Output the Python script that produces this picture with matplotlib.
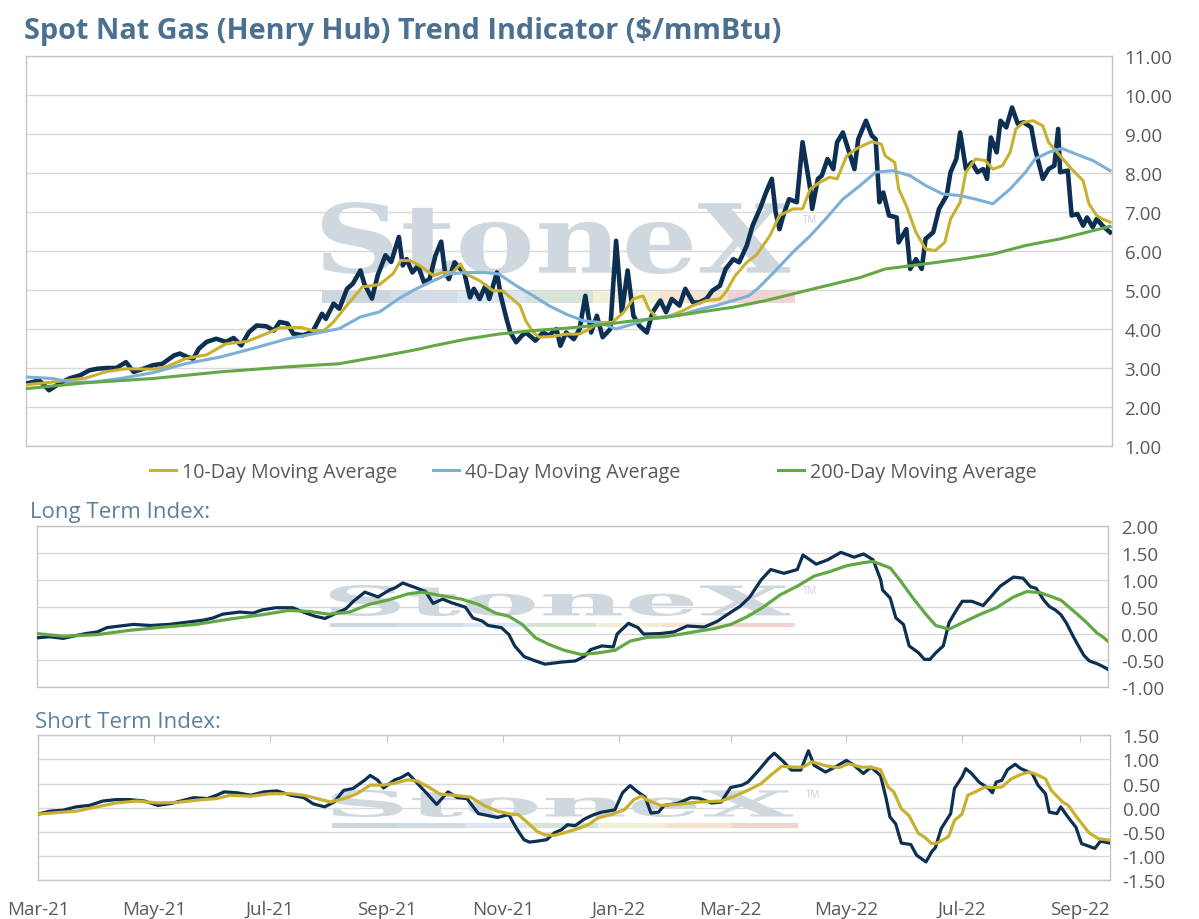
import pandas as pd
import matplotlib
matplotlib.use("Agg")
import matplotlib.pyplot as plt
import matplotlib.dates as mdates
from matplotlib.textpath import TextPath
from matplotlib.patches import PathPatch, Rectangle
from matplotlib.font_manager import FontProperties
from matplotlib.transforms import Affine2D
from matplotlib.lines import Line2D

plt.rcParams["font.family"] = ["Open Sans", "DejaVu Sans"]

# dias contados desde el 1 de marzo de 2021
inicio = pd.Timestamp("2021-03-01")
n_dias = 565

# precio spot Henry Hub ($/mmBtu)
precio_dia = [0, 7, 12, 18, 23, 28, 33, 37, 42, 47, 52, 56, 61, 66, 71, 77, 80, 84, 87, 90,
              94, 99, 104, 108, 112, 116, 120, 125, 129, 132, 136, 139, 144, 149, 154, 156, 160, 163, 167, 170,
              174, 176, 180, 183, 187, 190, 194, 196, 198, 201, 204, 207, 210, 213, 216, 218, 220, 223, 226, 228,
              231, 233, 236, 239, 241, 245, 247, 250, 252, 255, 258, 260, 263, 265, 269, 272, 276, 278, 281, 285,
              288, 291, 294, 297, 300, 304, 307, 310, 313, 316, 319, 323, 326, 330, 333, 336, 340, 343, 347, 350,
              354, 357, 361, 364, 368, 371, 375, 378, 382, 385, 388, 390, 392, 394, 397, 401, 404, 408, 409, 412,
              414, 417, 420, 422, 425, 428, 431, 433, 437, 440, 442, 444, 446, 449, 453, 454, 458, 460, 463, 466,
              468, 472, 475, 479, 481, 484, 486, 489, 492, 495, 498, 500, 502, 505, 507, 510, 513, 516, 519, 523,
              525, 529, 532, 535, 537, 538, 542, 544, 547, 550, 552, 555, 557, 560, 564]
precio_val = [2.60, 2.68, 2.43, 2.62, 2.74, 2.81, 2.94, 2.98, 3.00, 3.00, 3.15, 2.90, 2.98, 3.07, 3.11, 3.32, 3.37, 3.28, 3.24, 3.50,
              3.67, 3.75, 3.67, 3.77, 3.58, 3.92, 4.09, 4.07, 3.96, 4.18, 4.14, 3.88, 3.84, 3.92, 4.39, 4.26, 4.65, 4.52, 5.03, 5.16,
              5.50, 5.16, 4.78, 5.38, 5.89, 5.72, 6.36, 5.63, 5.79, 5.45, 5.62, 5.20, 5.28, 5.88, 6.24, 5.45, 5.28, 5.71, 5.54, 5.45,
              4.81, 5.03, 4.77, 5.11, 4.77, 5.45, 4.85, 4.26, 3.91, 3.66, 3.83, 3.91, 3.79, 3.70, 3.91, 3.83, 4.00, 3.57, 3.91, 3.74,
              4.00, 4.85, 3.91, 4.34, 3.79, 4.00, 6.26, 4.43, 5.50, 4.34, 4.09, 3.91, 4.43, 4.73, 4.43, 4.77, 4.60, 5.03, 4.68, 4.68,
              4.77, 4.98, 5.11, 5.54, 5.79, 5.71, 6.14, 6.65, 7.10, 7.50, 7.85, 7.00, 6.56, 6.91, 7.33, 7.25, 8.79, 7.59, 7.08, 7.85,
              7.93, 8.36, 8.10, 8.79, 9.04, 8.57, 8.10, 8.87, 9.34, 8.96, 8.87, 7.25, 7.50, 6.91, 6.86, 6.22, 6.56, 5.54, 5.79, 5.54,
              6.31, 6.48, 7.08, 7.42, 8.02, 8.36, 9.04, 8.10, 8.27, 8.02, 8.10, 7.85, 8.91, 8.53, 9.34, 9.17, 9.68, 9.26, 9.30, 9.17,
              8.62, 7.85, 8.10, 8.19, 9.13, 8.02, 8.06, 6.91, 6.95, 6.65, 6.86, 6.61, 6.82, 6.65, 6.48]

# promedio movil 10 dias
ma10_dia = [0, 14, 31, 42, 52, 66, 73, 83, 94, 104, 115, 125, 132, 143, 149, 155, 160, 167, 170, 175,
            184, 191, 195, 200, 205, 212, 217, 222, 226, 229, 236, 243, 248, 253, 257, 260, 264, 267, 274, 281,
            288, 293, 298, 305, 311, 316, 321, 324, 328, 333, 340, 347, 354, 361, 364, 369, 375, 380, 387, 392,
            399, 404, 408, 413, 418, 422, 427, 432, 437, 440, 445, 447, 452, 454, 458, 463, 468, 473, 478, 481,
            486, 489, 494, 499, 503, 508, 512, 515, 519, 524, 529, 532, 538, 544, 550, 553, 557, 560, 564]
ma10_val = [2.57, 2.64, 2.74, 2.91, 2.98, 2.97, 3.03, 3.24, 3.34, 3.62, 3.68, 3.88, 4.03, 4.04, 3.96, 3.96, 4.18, 4.61, 4.78, 5.08,
            5.14, 5.42, 5.76, 5.75, 5.62, 5.37, 5.45, 5.45, 5.67, 5.41, 5.24, 4.98, 4.98, 4.77, 4.60, 4.21, 3.91, 3.79, 3.81, 3.87,
            3.87, 4.00, 4.17, 4.17, 4.43, 4.77, 4.85, 4.51, 4.30, 4.30, 4.43, 4.60, 4.73, 4.77, 4.94, 5.37, 5.71, 5.90, 6.39, 6.91,
            7.08, 7.08, 7.59, 7.76, 7.89, 7.85, 8.44, 8.62, 8.74, 8.80, 8.74, 8.44, 8.27, 7.59, 7.16, 6.48, 6.05, 6.01, 6.22, 6.82,
            7.25, 8.02, 8.36, 8.32, 8.10, 8.19, 8.53, 9.13, 9.30, 9.34, 9.21, 8.79, 8.44, 8.10, 7.80, 7.21, 6.91, 6.82, 6.74]

# promedio movil 40 dias
ma40_dia = [0, 14, 23, 35, 49, 66, 83, 101, 118, 136, 153, 163, 174, 184, 194, 203, 212, 220, 229, 238,
            246, 255, 264, 272, 281, 290, 298, 307, 316, 324, 333, 342, 350, 359, 368, 376, 381, 385, 390, 399,
            408, 416, 425, 434, 442, 451, 460, 468, 477, 486, 494, 503, 512, 520, 525, 532, 539, 546, 555, 564]
ma40_val = [2.77, 2.73, 2.64, 2.64, 2.73, 2.88, 3.11, 3.28, 3.50, 3.75, 3.91, 4.01, 4.31, 4.44, 4.78, 5.03, 5.24, 5.41, 5.45, 5.45,
            5.41, 5.11, 4.85, 4.60, 4.38, 4.21, 4.17, 4.00, 4.13, 4.26, 4.32, 4.38, 4.50, 4.60, 4.73, 4.85, 5.05, 5.25, 5.50, 5.97,
            6.39, 6.82, 7.33, 7.68, 8.02, 8.06, 7.93, 7.68, 7.46, 7.42, 7.33, 7.21, 7.59, 8.02, 8.36, 8.53, 8.63, 8.49, 8.32, 8.06]

# promedio movil 200 dias
ma200_dia = [0, 31, 66, 101, 136, 163, 187, 204, 212, 229, 246, 264, 281, 298, 316, 333, 350, 368, 385, 413,
             434, 447, 468, 486, 503, 520, 538, 555, 564]
ma200_val = [2.47, 2.62, 2.73, 2.90, 3.03, 3.11, 3.32, 3.48, 3.57, 3.74, 3.87, 3.96, 4.02, 4.10, 4.21, 4.30, 4.43, 4.56, 4.73, 5.07,
             5.32, 5.54, 5.67, 5.79, 5.92, 6.14, 6.31, 6.52, 6.63]

# indice de largo plazo
lp_dia = [0, 7, 14, 19, 26, 32, 37, 44, 51, 60, 70, 79, 88, 93, 98, 107, 114, 119, 126, 135,
          142, 147, 152, 158, 163, 167, 173, 180, 186, 189, 193, 200, 205, 209, 214, 219, 226, 230, 235, 238,
          245, 249, 252, 257, 263, 268, 277, 284, 289, 292, 298, 304, 306, 312, 317, 320, 329, 336, 343, 352,
          359, 364, 371, 376, 382, 387, 394, 401, 404, 411, 417, 424, 431, 436, 441, 445, 446, 450, 453, 457,
          460, 465, 468, 471, 474, 478, 481, 485, 488, 493, 499, 502, 508, 515, 520, 524, 527, 531, 534, 537,
          540, 543, 546, 548, 552, 555, 559, 562, 565]
lp_val = [-0.08, -0.06, -0.09, -0.05, 0.00, 0.03, 0.11, 0.14, 0.17, 0.15, 0.17, 0.21, 0.25, 0.29, 0.36, 0.40, 0.38, 0.44, 0.48, 0.48,
          0.38, 0.32, 0.28, 0.38, 0.46, 0.60, 0.77, 0.68, 0.81, 0.85, 0.94, 0.85, 0.78, 0.56, 0.64, 0.57, 0.49, 0.29, 0.23, 0.15,
          0.11, -0.02, -0.23, -0.43, -0.51, -0.57, -0.53, -0.51, -0.42, -0.30, -0.23, -0.25, -0.01, 0.19, 0.11, -0.01, 0.00, 0.03, 0.14, 0.12,
          0.23, 0.35, 0.51, 0.68, 1.00, 1.19, 1.12, 1.19, 1.46, 1.29, 1.37, 1.51, 1.42, 1.48, 1.37, 1.00, 0.81, 0.66, 0.29, 0.17,
          -0.23, -0.36, -0.48, -0.48, -0.36, -0.23, 0.20, 0.44, 0.60, 0.60, 0.52, 0.64, 0.88, 1.05, 1.03, 0.87, 0.84, 0.62, 0.50, 0.44,
          0.35, 0.19, -0.02, -0.15, -0.40, -0.51, -0.56, -0.61, -0.67]
lp_prom_dia = [0, 14, 32, 49, 67, 84, 102, 119, 133, 144, 154, 165, 175, 186, 196, 203, 214, 224, 233, 242,
               249, 256, 263, 270, 278, 287, 296, 305, 313, 322, 331, 340, 348, 357, 366, 375, 383, 392, 401, 410,
               418, 427, 436, 441, 450, 455, 462, 469, 474, 481, 488, 497, 506, 515, 522, 529, 534, 540, 543, 548,
               554, 559, 562, 565]
lp_prom_val = [0.00, -0.05, -0.02, 0.06, 0.12, 0.17, 0.27, 0.35, 0.43, 0.41, 0.36, 0.40, 0.54, 0.63, 0.74, 0.77, 0.70, 0.64, 0.54, 0.38,
               0.32, 0.17, -0.08, -0.20, -0.31, -0.39, -0.36, -0.31, -0.14, -0.07, -0.06, -0.01, 0.04, 0.09, 0.17, 0.32, 0.49, 0.72, 0.88, 1.07,
               1.15, 1.26, 1.32, 1.34, 1.22, 1.00, 0.66, 0.35, 0.15, 0.08, 0.20, 0.35, 0.48, 0.68, 0.78, 0.76, 0.70, 0.62, 0.53, 0.38,
               0.19, 0.01, -0.06, -0.15]

# indice de corto plazo
cp_dia = [0, 6, 13, 20, 27, 34, 41, 48, 56, 63, 70, 77, 82, 89, 94, 98, 105, 112, 119, 126,
          133, 140, 145, 151, 156, 161, 166, 172, 175, 179, 182, 188, 191, 195, 200, 205, 210, 216, 221, 226,
          232, 237, 242, 248, 252, 256, 259, 263, 268, 272, 276, 279, 283, 288, 293, 297, 300, 304, 308, 312,
          316, 320, 323, 327, 330, 337, 344, 348, 355, 360, 365, 371, 374, 379, 385, 388, 393, 397, 402, 406,
          409, 415, 420, 426, 430, 435, 439, 444, 447, 449, 452, 455, 460, 463, 468, 471, 473, 476, 481, 483,
          487, 489, 492, 496, 501, 503, 505, 508, 511, 515, 518, 524, 527, 531, 533, 537, 539, 543, 547, 550,
          557, 560, 565]
cp_val = [-0.13, -0.07, -0.05, 0.02, 0.05, 0.14, 0.17, 0.17, 0.14, 0.05, 0.09, 0.16, 0.21, 0.19, 0.26, 0.33, 0.31, 0.26, 0.33, 0.35,
          0.26, 0.21, 0.08, 0.02, 0.12, 0.36, 0.40, 0.57, 0.67, 0.57, 0.41, 0.58, 0.62, 0.71, 0.50, 0.29, 0.07, 0.33, 0.21, 0.19,
          -0.12, -0.16, -0.20, -0.14, -0.42, -0.66, -0.71, -0.69, -0.66, -0.52, -0.45, -0.35, -0.37, -0.23, -0.14, -0.09, -0.07, -0.04, 0.31, 0.46,
          0.33, 0.22, -0.11, -0.09, 0.05, 0.09, 0.21, 0.20, 0.10, 0.12, 0.42, 0.47, 0.53, 0.74, 1.02, 1.13, 0.95, 0.78, 0.78, 1.18,
          0.88, 0.74, 0.84, 0.98, 0.88, 0.71, 0.84, 0.67, 0.19, -0.19, -0.33, -0.73, -0.76, -0.98, -1.12, -0.91, -0.82, -0.43, -0.12, 0.40,
          0.64, 0.81, 0.71, 0.53, 0.40, 0.31, 0.53, 0.57, 0.79, 0.90, 0.81, 0.71, 0.47, 0.29, -0.09, -0.12, 0.02, -0.20, -0.40, -0.74,
          -0.84, -0.69, -0.73]
cp_prom_dia = [0, 13, 20, 31, 41, 52, 63, 73, 84, 94, 101, 112, 122, 133, 140, 147, 154, 161, 168, 175,
               182, 188, 195, 200, 207, 212, 219, 228, 235, 242, 249, 253, 258, 263, 267, 272, 277, 283, 290, 295,
               302, 309, 314, 318, 321, 328, 337, 348, 360, 367, 374, 381, 386, 392, 399, 403, 408, 415, 422, 427,
               434, 439, 444, 448, 451, 455, 459, 464, 467, 471, 474, 480, 483, 487, 490, 494, 499, 504, 508, 513,
               518, 522, 525, 531, 534, 540, 543, 548, 554, 559, 565]
cp_prom_val = [-0.13, -0.09, -0.07, 0.02, 0.10, 0.14, 0.10, 0.11, 0.16, 0.19, 0.26, 0.24, 0.29, 0.29, 0.26, 0.19, 0.12, 0.19, 0.29, 0.47,
               0.47, 0.51, 0.58, 0.55, 0.40, 0.28, 0.26, 0.22, 0.05, -0.07, -0.13, -0.14, -0.31, -0.49, -0.56, -0.57, -0.52, -0.45, -0.35, -0.21,
               -0.14, -0.04, 0.17, 0.24, 0.16, 0.05, 0.07, 0.12, 0.14, 0.24, 0.36, 0.50, 0.67, 0.86, 0.84, 0.84, 0.95, 0.87, 0.83, 0.91,
               0.84, 0.84, 0.79, 0.43, 0.33, -0.02, -0.16, -0.53, -0.60, -0.74, -0.73, -0.59, -0.26, -0.13, 0.26, 0.33, 0.43, 0.42, 0.43, 0.60,
               0.69, 0.74, 0.71, 0.60, 0.36, 0.12, 0.05, -0.22, -0.52, -0.64, -0.67]

# colores
azul_osc = "#0c2f52"
dorado = "#c8b130"
celeste = "#7cb0d6"
verde = "#63a845"
gris_txt = "#595959"
titulo_col = "#4c7190"
sub_col = "#5d809b"
W, H = 1199, 920


def fecha(dias):
    return inicio + pd.to_timedelta(dias, unit="D")


def caja(izq, der, arriba, abajo):
    return [izq / W, 1 - abajo / H, (der - izq) / W, (abajo - arriba) / H]


def preparar(ax, ymin, ymax, paso):
    ax.set_xlim(inicio, fecha(n_dias))
    ax.set_ylim(ymin, ymax)
    ticks = [round(ymin + i * paso, 2) for i in range(int(round((ymax - ymin) / paso)) + 1)]
    ax.set_yticks(ticks)
    ax.set_yticklabels([f"{t:.2f}" for t in ticks])
    ax.yaxis.tick_right()
    ax.tick_params(axis="y", length=0, pad=9, labelsize=13.5, labelcolor=gris_txt)
    ax.grid(axis="y", color="#d9d9d9", linewidth=1)
    ax.set_axisbelow(True)
    for s in ax.spines.values():
        s.set_color("#c4c4c4")
        s.set_linewidth(1)
    ax.xaxis.set_major_locator(mdates.MonthLocator(bymonth=[1, 3, 5, 7, 9, 11]))
    ax.xaxis.set_major_formatter(mdates.DateFormatter("%b-%y"))
    ax.tick_params(axis="x", length=0, labelbottom=False)


def marca_agua(ax, x0, x1, y0, y1, yb0, yb1):
    tp = TextPath((0, 0), "StoneX", size=100,
                  prop=FontProperties(family="DejaVu Serif", weight="bold"))
    ext = tp.get_extents()
    tr = (Affine2D().translate(-ext.x0, -ext.y0)
          .scale((x1 - x0) / ext.width, (y1 - y0) / ext.height)
          .translate(x0, y0) + ax.transAxes)
    ax.add_patch(PathPatch(tp, transform=tr, fc="#cfd7df", ec="none", zorder=1))
    colores = ["#cdd5de", "#d3dbe6", "#dce6f2", "#d5e4d5", "#f3efd7", "#f5e3cf", "#f2d3d3"]
    ancho = (x1 + 0.005 - x0) / len(colores)
    for i, c in enumerate(colores):
        ax.add_patch(Rectangle((x0 + i * ancho, yb0), ancho, yb1 - yb0, transform=ax.transAxes,
                               fc=c, ec="none", zorder=1))
    ax.text(x1 + 0.012, y1 - 0.05, "TM", transform=ax.transAxes, fontsize=7,
            color="#c9d0d8", zorder=1)


fig = plt.figure(figsize=(W / 100, H / 100), dpi=100)

# panel principal: precio y promedios
ax1 = fig.add_axes(caja(26, 1112, 57, 447))
preparar(ax1, 1, 11, 1)
marca_agua(ax1, 0.2726, 0.7035, 0.441, 0.6256, 0.3667, 0.3974)
ax1.plot(fecha(precio_dia), precio_val, color=azul_osc, linewidth=3.3, zorder=3)
ax1.plot(fecha(ma10_dia), ma10_val, color=dorado, linewidth=2.2, zorder=4)
ax1.plot(fecha(ma40_dia), ma40_val, color=celeste, linewidth=2.2, zorder=5)
ax1.plot(fecha(ma200_dia), ma200_val, color=verde, linewidth=2.2, zorder=6)

fig.text(24 / W, 1 - 31 / H, "Spot Nat Gas (Henry Hub) Trend Indicator ($/mmBtu)",
         fontsize=20.8, fontweight="bold", color=titulo_col, ha="left", va="center")

# leyenda
entradas = [(150, dorado, "10-Day Moving Average"),
            (433, celeste, "40-Day Moving Average"),
            (778, verde, "200-Day Moving Average")]
for x, c, txt in entradas:
    h = Line2D([], [], color=c, linewidth=2.2)
    fig.legend(handles=[h], labels=[txt], loc="center left",
               bbox_to_anchor=(x / W, 1 - 473 / H), frameon=False, fontsize=14.2,
               labelcolor=gris_txt, handlelength=1.3, handletextpad=0.3,
               borderpad=0, borderaxespad=0)

# indice de largo plazo
fig.text(30 / W, 1 - 513 / H, "Long Term Index:", fontsize=16, color=sub_col,
         ha="left", va="center")
ax2 = fig.add_axes(caja(36.7, 1108.3, 527, 688.3))
preparar(ax2, -1, 2, 0.5)
marca_agua(ax2, 0.2737, 0.703, 0.442, 0.634, 0.371, 0.399)
ax2.plot(fecha(lp_dia), lp_val, color=azul_osc, linewidth=2.3, zorder=3)
ax2.plot(fecha(lp_prom_dia), lp_prom_val, color=verde, linewidth=2.3, zorder=4)

# indice de corto plazo
fig.text(35 / W, 1 - 722 / H, "Short Term Index:", fontsize=16, color=sub_col,
         ha="left", va="center")
ax3 = fig.add_axes(caja(38.3, 1110, 736.3, 881.3))
preparar(ax3, -1.5, 1.5, 0.5)
marca_agua(ax3, 0.274, 0.7042, 0.4366, 0.6228, 0.364, 0.395)
ax3.plot(fecha(cp_dia), cp_val, color=azul_osc, linewidth=2.3, zorder=3)
ax3.plot(fecha(cp_prom_dia), cp_prom_val, color=dorado, linewidth=2.3, zorder=4)
ax3.tick_params(axis="x", which="major", top=True, bottom=False, direction="in",
                length=5, color="#c4c4c4", labelbottom=True, labelsize=13.5,
                labelcolor=gris_txt, pad=14)

fig.savefig("out.png", dpi=100)
plt.close(fig)
